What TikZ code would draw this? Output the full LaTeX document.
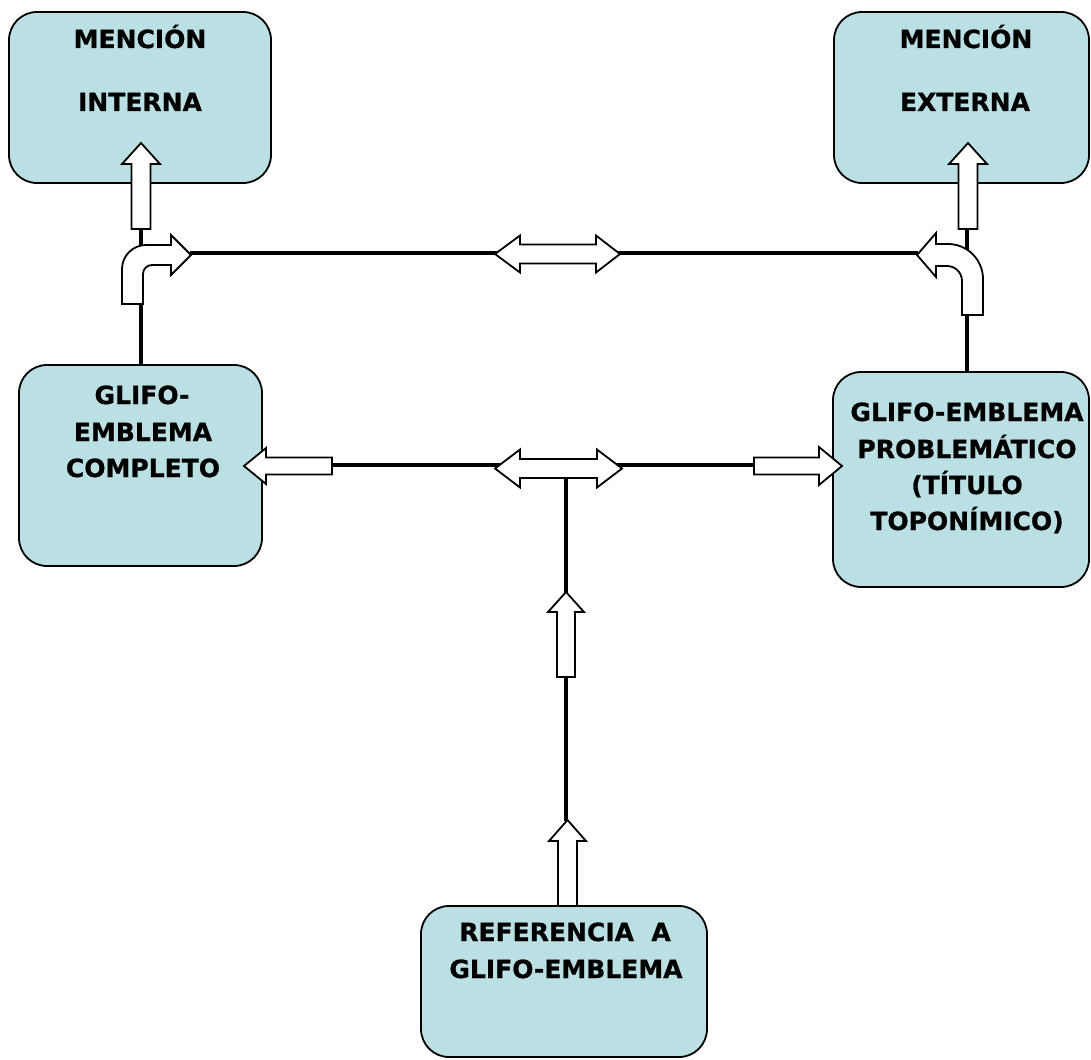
\documentclass[tikz,border=0pt]{standalone}
\usepackage{fontspec}
\setmainfont{DejaVu Sans}[BoldFont=DejaVu Sans Bold, BoldFeatures={FakeBold=0.8}]
\definecolor{boxfill}{RGB}{186,224,227}
\begin{document}
\begin{tikzpicture}[x=1pt,y=-1pt,
  box/.style={draw=black, fill=boxfill, line width=1.8pt, rounded corners=28pt, inner sep=0pt},
  lbl/.style={anchor=base, inner sep=0pt, font=\fontsize{25}{30}\selectfont\bfseries},
  conn/.style={draw=black, line width=4.5pt},
  blk/.style={draw=black, fill=white, line width=1.8pt, line join=miter}]
\useasboundingbox (0,0) rectangle (1091,1059);

% boxes
\node[box, minimum width=262pt, minimum height=171pt] (b1) at (140,97.5) {};
\node[box, minimum width=255pt, minimum height=171pt] (b2) at (961.5,97.5) {};
\node[box, minimum width=243pt, minimum height=201pt] (b3) at (140.5,465.5) {};
\node[box, minimum width=256pt, minimum height=215pt] (b4) at (961,479.5) {};
\node[box, minimum width=286pt, minimum height=151pt] (b5) at (564,981.5) {};

% texts
\node[lbl] (t1a) at (140,48) {MENCIÓN};
\node[lbl] (t1b) at (140,111) {INTERNA};
\node[lbl] (t2a) at (966,48) {MENCIÓN};
\node[lbl] (t2b) at (965,111) {EXTERNA};
\node[lbl] (t3a) at (142,404) {GLIFO-};
\node[lbl] (t3b) at (143,441) {EMBLEMA};
\node[lbl] (t3c) at (143,477) {COMPLETO};
\node[lbl] (t4a) at (967,421) {GLIFO-EMBLEMA};
\node[lbl] (t4b) at (967,458) {PROBLEMÁTICO};
\node[lbl] (t4c) at (967,494) {(TÍTULO};
\node[lbl] (t4d) at (967,530) {TOPONÍMICO)};
\node[lbl] (t5a) at (565,941) {REFERENCIA\ \ A};
\node[lbl] (t5b) at (566,978) {GLIFO-EMBLEMA};

% connector end points
\coordinate (a1b) at (141,229);
\coordinate (a2b) at (967,229);
\coordinate (lbt) at (190,253);
\coordinate (rbt) at (918,253);
\coordinate (lat) at (332,465);
\coordinate (rat) at (754,465);
\coordinate (mdb) at (566,478);
\coordinate (bat) at (566,821);

% connectors
\draw[conn] (a1b) -- (a1b |- b3.north);
\draw[conn] (a2b) -- (a2b |- b4.north);
\draw[conn] (lbt) -- (rbt);
\draw[conn] (lat) -- (rat);
\draw[conn] (mdb) -- (bat);

% up arrows into the top boxes
\draw[blk] (131.5,229) -- (131.5,164) -- (122,164) -- (141,143) -- (160,164) -- (150.5,164) -- (150.5,229) -- cycle;
\draw[blk] (958.5,229) -- (958.5,164) -- (949,164) -- (968,143) -- (987,164) -- (977.5,164) -- (977.5,229) -- cycle;

% bent arrows
\draw[blk] (122,304) -- (122,269) .. controls (122,255.8) and (132.8,245) .. (146,245) -- (171,245) -- (171,235) -- (191,255) -- (171,275) -- (171,265) -- (152,265) .. controls (147,265) and (143,269) .. (143,274) -- (143,304) -- cycle;
\draw[blk] (962,315) -- (962,281) .. controls (962,272.7) and (955.3,266) .. (947,266) -- (936,266) -- (936,277) -- (917,255) -- (936,233) -- (936,244) -- (948,244) .. controls (967.3,244) and (983,259.7) .. (983,279) -- (983,315) -- cycle;

% double arrows
\draw[blk] (495,254) -- (520,235.5) -- (520,244.5) -- (596,244.5) -- (596,235.5) -- (620,254) -- (596,272.5) -- (596,263.5) -- (520,263.5) -- (520,272.5) -- cycle;
\draw[blk] (495,468.5) -- (520,449.5) -- (520,459) -- (597,459) -- (597,449.5) -- (622,468.5) -- (597,487.5) -- (597,478) -- (520,478) -- (520,487.5) -- cycle;

% side arrows
\draw[blk] (244,466) -- (266,448) -- (266,457.5) -- (332,457.5) -- (332,474.5) -- (266,474.5) -- (266,484) -- cycle;
\draw[blk] (754,457.5) -- (819,457.5) -- (819,447) -- (842,466) -- (819,485) -- (819,474.5) -- (754,474.5) -- cycle;

% vertical up arrows
\draw[blk] (557,677) -- (557,612) -- (548,612) -- (566,592) -- (584,612) -- (575,612) -- (575,677) -- cycle;
\draw[blk] (558,906) -- (558,841) -- (549,841) -- (567.5,820) -- (586,841) -- (577,841) -- (577,906) -- cycle;
\end{tikzpicture}
\end{document}
